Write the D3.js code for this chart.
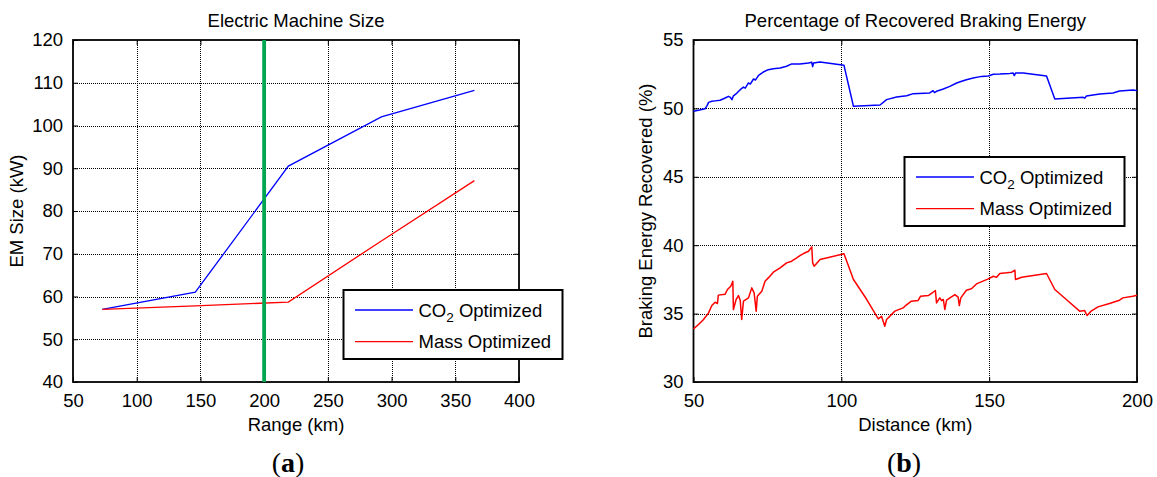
<!DOCTYPE html>
<html>
<head>
<meta charset="utf-8">
<script src="https://cdn.jsdelivr.net/npm/d3@7"></script>
<style>
  html, body { margin: 0; padding: 0; background: #fff; }
  svg { display: block; }
  text { font-family: "Liberation Sans", Arial, Helvetica, sans-serif; fill: #000; }
</style>
</head>
<body>
<svg id="fig" width="1157" height="477"></svg>
<script>
// ---- Panel (a): electric machine size vs. range ----
const rangeKm = [73, 146, 219, 292, 365];
const emSizeCO2 = [57, 61, 90.5, 102, 108.2];
const emSizeMass = [57, 57.8, 58.7, 73, 87.1];
const targetRangeKm = 200;
const rangeTicks = [50, 100, 150, 200, 250, 300, 350, 400];
const emTicks = [40, 50, 60, 70, 80, 90, 100, 110, 120];

// ---- Panel (b): recovered braking energy along the route ----
const co2Trace = [
  [50,49.8],[51.7,49.86],[53.9,49.97],[54.6,50.2],[55.1,50.44],[56.2,50.52],[57.3,50.55],
  [59,50.6],[60.7,50.76],[61.8,50.88],[62.5,50.8],[63,50.64],[63.5,50.92],[64.6,51.1],
  [65.8,51.37],[66.9,51.56],[67.5,51.48],[68.6,51.86],[69.2,51.78],[70.3,52.15],[71,52.08],
  [72,52.42],[73.6,52.66],[75.3,52.83],[77,52.9],[79.3,52.95],[81.5,53.08],[83.2,53.25],
  [86,53.25],[88.9,53.32],[90,53.37],[90.3,53.05],[90.6,53.32],[92.8,53.4],[100.9,53.15],
  [104.1,50.15],[113.1,50.25],[115.3,50.64],[118.7,50.83],[122.1,50.93],[124.3,51.08],
  [129.9,51.13],[131,51.3],[131.5,51.15],[132.2,51.25],[134.5,51.42],[136.7,51.61],
  [139,51.86],[140.7,51.98],[142.3,52.1],[144.6,52.22],[147.4,52.34],[149.7,52.37],
  [151.4,52.49],[153.6,52.51],[157,52.56],[158.1,52.59],[158.5,52.4],[158.9,52.58],
  [161.5,52.59],[169.4,52.37],[172.2,50.69],[181.8,50.81],[182.3,50.75],[182.9,50.9],
  [187.4,51.05],[191.9,51.13],[194.1,51.27],[198.7,51.35],[200,51.3]
];
const massTrace = [
  [50,33.88],[51.7,34.2],[53.4,34.57],[55.1,35.05],[56.2,35.59],[57.3,35.83],[58.1,35.74],
  [58.4,36.35],[60.7,36.42],[61.5,36.76],[62.6,37.0],[63.3,37.37],[63.5,35.3],[64.4,36.03],
  [65.2,36.32],[65.8,35.98],[66.3,34.57],[66.9,35.91],[68.6,36.15],[69.7,36.88],[70.5,36.52],
  [71.2,35.18],[71.6,36.27],[73.1,36.64],[74.2,37.37],[75.3,37.61],[77,38.03],[79.3,38.34],
  [81.5,38.71],[83.2,38.83],[84.9,39.07],[86,39.24],[87.2,39.39],[88.9,39.56],[90,39.88],
  [90.3,38.71],[90.8,38.46],[92.8,38.95],[100.9,39.37],[104.1,37.49],[108.6,36.03],
  [112.5,34.61],[113.6,34.81],[114.7,34.08],[115.3,34.57],[118.1,35.18],[120.9,35.42],
  [121.5,35.54],[123.7,35.91],[126,35.96],[126.8,36.27],[129.4,36.32],[131,36.56],
  [131.8,36.69],[132.2,35.78],[133.3,36.15],[133.9,35.95],[134.5,36.03],[135,35.3],
  [135.6,35.98],[138.4,36.39],[139.5,36.2],[139.9,35.59],[140.4,36.15],[142.3,36.71],
  [144,36.81],[145.7,37.17],[147.9,37.37],[149.7,37.54],[151.4,37.73],[152.5,37.65],
  [153.6,37.93],[155.9,37.98],[157.6,38.03],[158.7,38.17],[158.9,37.49],[161,37.66],
  [169.4,37.93],[172.2,36.76],[176.1,36.03],[180.6,35.18],[182.3,35.22],[183.1,34.86],
  [184.5,35.18],[186.8,35.49],[190.7,35.74],[194.1,35.98],[195.2,36.15],[198.6,36.27],
  [200,36.34]
];
const distTicks = [50, 100, 150, 200];
const pctTicks = [30, 35, 40, 45, 50, 55];

const seriesNames = ["CO2 Optimized", "Mass Optimized"];
const seriesColors = ["#0000ff", "#ff0000"];

const svg = d3.select("#fig");
const FS = 18.5;
const snap = v => Math.round(v) + 0.5;

// Draws a boxed axes with inward ticks on all four sides and a dotted grid.
function drawAxes(cfg) {
  const { x, y, xTicks, yTicks, gridX, gridY, title, xLabel, yLabel, yLabelX } = cfg;
  const [x0, x1] = x.range();
  const [y0, y1] = y.range(); // y0 bottom, y1 top
  const g = svg.append("g");

  // dotted grid
  g.selectAll(".gx").data(gridX).join("line")
    .attr("x1", d => snap(x(d))).attr("x2", d => snap(x(d)))
    .attr("y1", y0).attr("y2", y1)
    .attr("stroke", "#000").attr("stroke-width", 1)
    .attr("stroke-dasharray", "1,1").attr("shape-rendering", "crispEdges");
  g.selectAll(".gy").data(gridY).join("line")
    .attr("x1", x0).attr("x2", x1)
    .attr("y1", d => snap(y(d))).attr("y2", d => snap(y(d)))
    .attr("stroke", "#000").attr("stroke-width", 1)
    .attr("stroke-dasharray", "1,1").attr("shape-rendering", "crispEdges");

  // axes with inward ticks
  const tl = 5;
  g.append("g").attr("transform", `translate(0,${y0})`)
    .call(d3.axisBottom(x).tickValues(xTicks).tickSizeInner(-tl).tickSizeOuter(0).tickPadding(12))
    .call(a => a.select(".domain").remove())
    .call(a => a.selectAll("text").attr("font-size", FS).attr("font-family", "Liberation Sans, Arial, sans-serif").attr("dy", "0.71em"));
  g.append("g").attr("transform", `translate(0,${y1})`)
    .call(d3.axisTop(x).tickValues(xTicks).tickSizeInner(-tl).tickSizeOuter(0).tickFormat(""))
    .call(a => a.select(".domain").remove());
  g.append("g").attr("transform", `translate(${x0},0)`)
    .call(d3.axisLeft(y).tickValues(yTicks).tickSizeInner(-tl).tickSizeOuter(0).tickPadding(10))
    .call(a => a.select(".domain").remove())
    .call(a => a.selectAll("text").attr("font-size", FS).attr("font-family", "Liberation Sans, Arial, sans-serif"));
  g.append("g").attr("transform", `translate(${x1},0)`)
    .call(d3.axisRight(y).tickValues(yTicks).tickSizeInner(-tl).tickSizeOuter(0).tickFormat(""))
    .call(a => a.select(".domain").remove());
  g.selectAll(".tick line").attr("stroke", "#000").attr("stroke-width", 1);

  // frame
  g.append("rect").attr("x", x0).attr("y", y1)
    .attr("width", x1 - x0).attr("height", y0 - y1)
    .attr("fill", "none").attr("stroke", "#000").attr("stroke-width", 1.8);

  // labels
  g.append("text").attr("x", (x0 + x1) / 2).attr("y", 27)
    .attr("text-anchor", "middle").attr("font-size", FS).text(title);
  g.append("text").attr("x", (x0 + x1) / 2).attr("y", 431)
    .attr("text-anchor", "middle").attr("font-size", FS).text(xLabel);
  g.append("text")
    .attr("transform", `translate(${yLabelX},${(y0 + y1) / 2}) rotate(-90)`)
    .attr("text-anchor", "middle").attr("font-size", FS).text(yLabel);
  return g;
}

// Legend box with a subscript in "CO2".
function drawLegend(bx, by, bw, bh, rows) {
  const g = svg.append("g");
  g.append("rect").attr("x", bx).attr("y", by).attr("width", bw).attr("height", bh)
    .attr("fill", "#fff").attr("stroke", "#000").attr("stroke-width", 2);
  rows.forEach((r, i) => {
    const cy = by + 20 + i * 31.6;
    g.append("line").attr("x1", bx + 11.5).attr("x2", bx + 69.5)
      .attr("y1", cy).attr("y2", cy)
      .attr("stroke", r.color).attr("stroke-width", 1.3);
    const t = g.append("text").attr("x", bx + 75).attr("y", cy + 6.5).attr("font-size", FS);
    if (r.name.startsWith("CO2")) {
      t.append("tspan").text("CO");
      t.append("tspan").attr("font-size", 13.5).attr("dy", 5).text("2");
      t.append("tspan").attr("dy", -5).text(r.name.slice(3));
    } else {
      t.text(r.name);
    }
  });
}

// ---------- Panel (a) ----------
const xa = d3.scaleLinear().domain([50, 400]).range([73, 519]);
const ya = d3.scaleLinear().domain([40, 120]).range([382, 40]);
drawAxes({
  x: xa, y: ya, xTicks: rangeTicks, yTicks: emTicks,
  gridX: rangeTicks.slice(1, -1), gridY: emTicks.slice(1, -1),
  title: "Electric Machine Size", xLabel: "Range (km)", yLabel: "EM Size (kW)", yLabelX: 23
});
const lineA = d3.line().x(d => xa(d[0])).y(d => ya(d[1]));
svg.append("path").datum(rangeKm.map((r, i) => [r, emSizeCO2[i]]))
  .attr("d", lineA).attr("fill", "none").attr("stroke", seriesColors[0]).attr("stroke-width", 1.3);
svg.append("path").datum(rangeKm.map((r, i) => [r, emSizeMass[i]]))
  .attr("d", lineA).attr("fill", "none").attr("stroke", seriesColors[1]).attr("stroke-width", 1.3);
svg.append("line").attr("x1", xa(targetRangeKm)).attr("x2", xa(targetRangeKm))
  .attr("y1", ya(40)).attr("y2", ya(120))
  .attr("stroke", "#00a650").attr("stroke-width", 3.8);
drawLegend(343.5, 290, 219, 69, seriesNames.map((n, i) => ({ name: n, color: seriesColors[i] })));

// ---------- Panel (b) ----------
const xb = d3.scaleLinear().domain([50, 200]).range([693.5, 1137]);
const yb = d3.scaleLinear().domain([30, 55]).range([382, 40]);
drawAxes({
  x: xb, y: yb, xTicks: distTicks, yTicks: pctTicks,
  gridX: distTicks.slice(1, -1), gridY: pctTicks.slice(1, -1),
  title: "Percentage of Recovered Braking Energy", xLabel: "Distance (km)",
  yLabel: "Braking Energy Recovered (%)", yLabelX: 652
});
const lineB = d3.line().x(d => xb(d[0])).y(d => yb(d[1]));
svg.append("path").datum(co2Trace).attr("d", lineB)
  .attr("fill", "none").attr("stroke", seriesColors[0]).attr("stroke-width", 1.5).attr("stroke-linejoin", "round");
svg.append("path").datum(massTrace).attr("d", lineB)
  .attr("fill", "none").attr("stroke", seriesColors[1]).attr("stroke-width", 1.5).attr("stroke-linejoin", "round");
drawLegend(904.5, 157, 220, 69, seriesNames.map((n, i) => ({ name: n, color: seriesColors[i] })));

// ---------- Captions ----------
[["a", 288], ["b", 904]].forEach(([letter, cx]) => {
  const t = svg.append("text").attr("x", cx).attr("y", 472).attr("text-anchor", "middle")
    .attr("font-size", 28).style("font-family", "'Liberation Serif', 'Times New Roman', serif");
  t.append("tspan").text("(");
  t.append("tspan").attr("font-weight", "bold").text(letter);
  t.append("tspan").text(")");
});
</script>
</body>
</html>
